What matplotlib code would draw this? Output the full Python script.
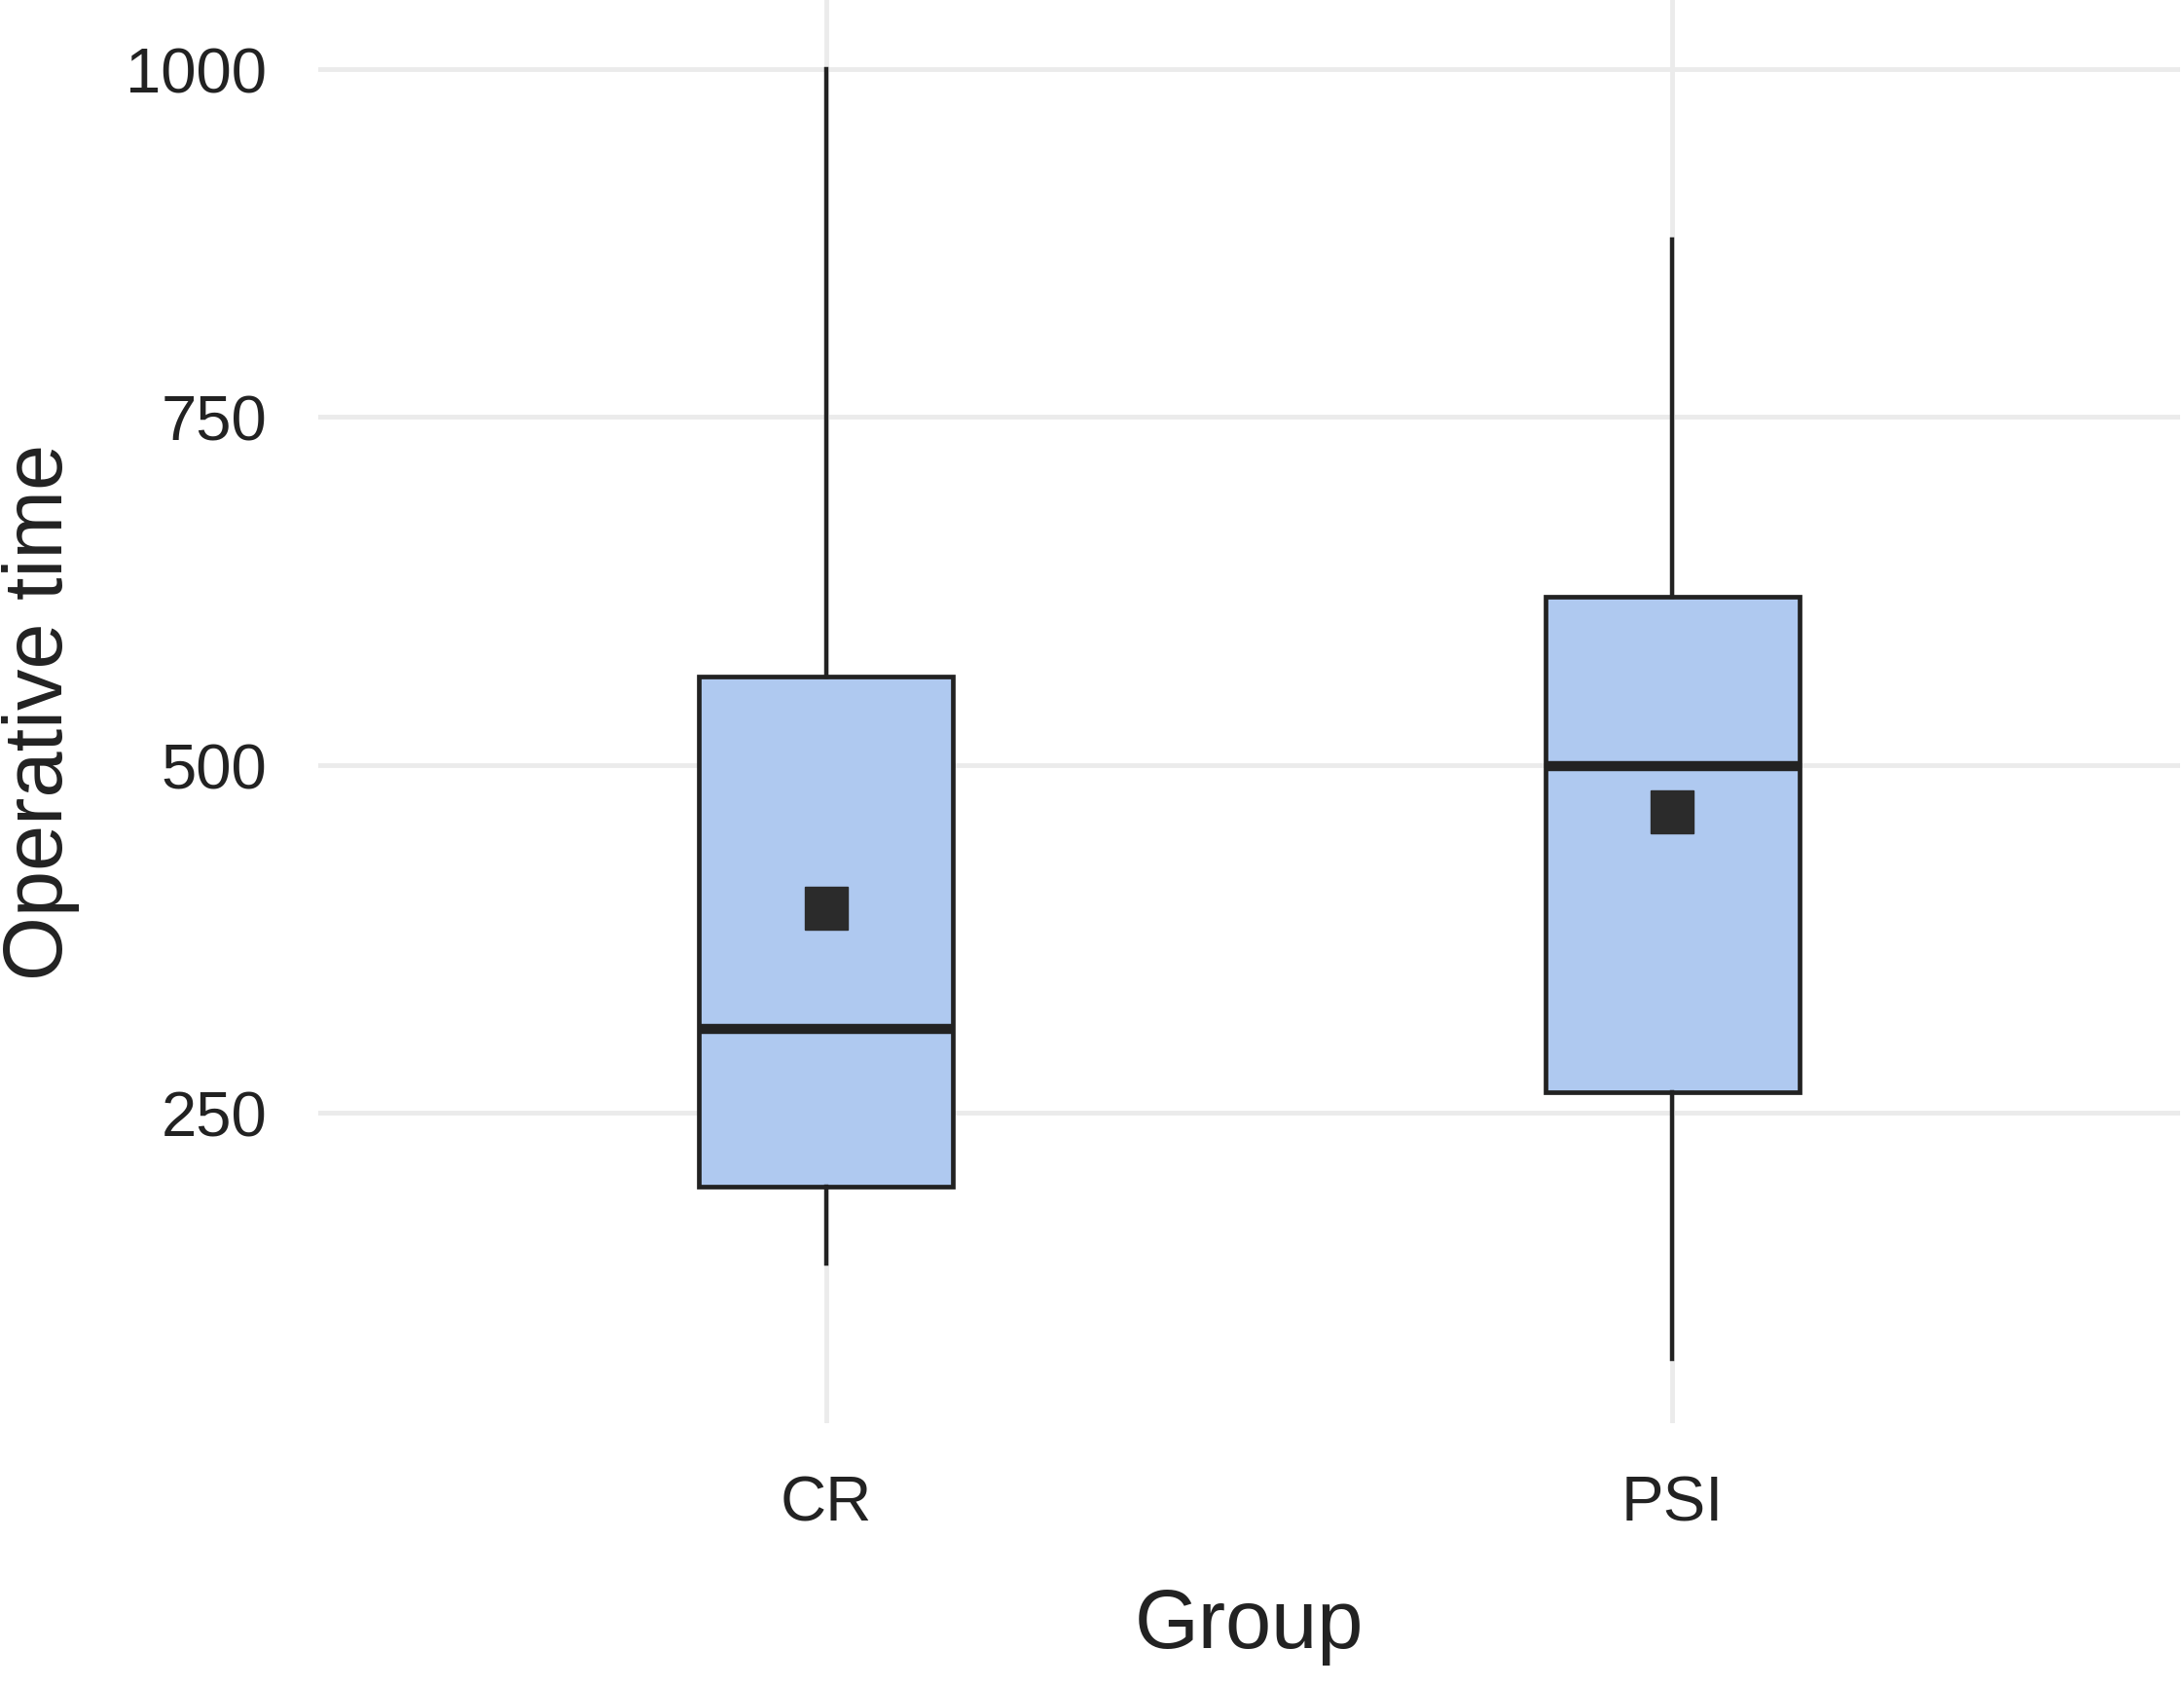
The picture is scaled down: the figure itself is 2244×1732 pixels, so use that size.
import matplotlib
matplotlib.use("Agg")
import matplotlib.pyplot as plt

# data
groups = ["CR", "PSI"]
whislo = [142, 73]
q1 = [197, 265]
med = [310, 499]
q3 = [563, 621]
whishi = [1000, 877]
means = [397, 466]

yticks = [250, 500, 750, 1000]

plt.rcParams['font.family'] = ['Liberation Sans', 'DejaVu Sans']

fig = plt.figure(figsize=(22.44, 17.33), dpi=100)
ax = fig.add_axes([327/2244, 270/1733, 1913/2244, 1463/1733])

stats = []
for i in range(len(groups)):
    stats.append({"label": groups[i], "whislo": whislo[i], "q1": q1[i],
                  "med": med[i], "q3": q3[i], "whishi": whishi[i],
                  "mean": means[i]})

pos = [1, 2]
ax.bxp(stats, positions=pos, widths=0.3, patch_artist=True, showfliers=False,
       showmeans=True, showcaps=False,
       boxprops=dict(facecolor="#AFC9F0", edgecolor="#222222", linewidth=3.4),
       whiskerprops=dict(color="#222222", linewidth=3.2),
       medianprops=dict(color="#222222", linewidth=7.5),
       meanprops=dict(marker="s", markerfacecolor="#2b2b2b",
                      markeredgecolor="#2b2b2b", markersize=31))

ax.set_xlim(0.4, 2.6)
ax.set_ylim(27, 1050)
ax.set_yticks(yticks)
ax.set_xticks(pos)
ax.set_xticklabels(groups)
ax.grid(True, color="#EBEBEB", linewidth=3.5)
ax.set_axisbelow(True)
for s in ax.spines.values():
    s.set_visible(False)
ax.tick_params(length=0, labelsize=47, colors="#222222")
ax.tick_params(axis="y", pad=38)
ax.tick_params(axis="x", pad=38)

ax.set_xlabel("Group", fontsize=61, color="#222222", labelpad=40)
ax.set_ylabel("Operative time", fontsize=61, color="#222222", labelpad=34)

fig.savefig("out.png", dpi=100)
